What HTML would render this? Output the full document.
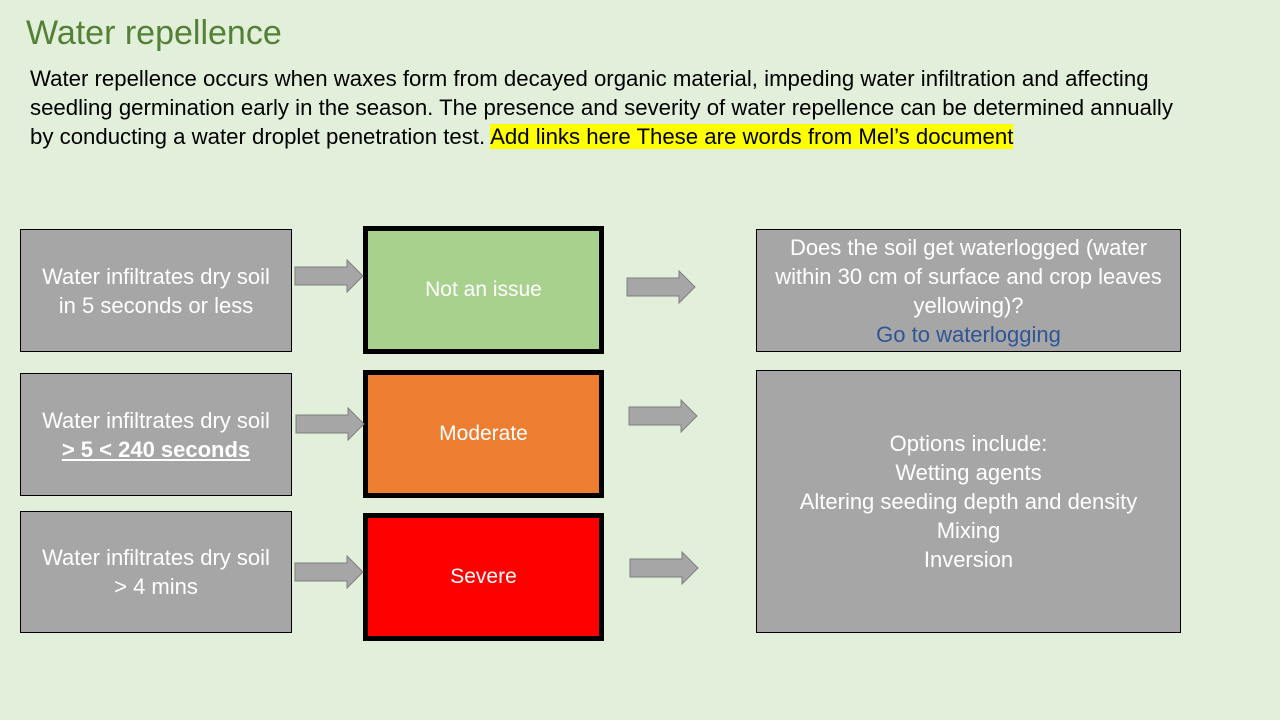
<!DOCTYPE html>
<html><head><meta charset="utf-8"><style>
body{margin:0;width:1280px;height:720px;background:#e2efda;font-family:"Liberation Sans",Calibri,sans-serif;position:relative;overflow:hidden}
.a{position:absolute}
.t{color:#538135;font-size:34px;left:26px;top:14px}
.p{left:30px;top:64px;font-size:22.2px;line-height:29px;color:#000;white-space:nowrap}
.hl{background:#ffff00}
.g{background:#a6a6a6;border:1px solid #000;box-sizing:border-box;color:#fff;font-size:22px;line-height:29px;display:flex;align-items:center;justify-content:center;text-align:center;white-space:nowrap}
.m{border:5px solid #000;box-sizing:border-box;color:#fff;font-size:21px;display:flex;align-items:center;justify-content:center}
</style></head><body>
<div class="a t">Water repellence</div>
<div class="a p">Water repellence occurs when waxes form from decayed organic material, impeding water infiltration and affecting<br>seedling germination early in the season. The presence and severity of water repellence can be determined annually<br>by conducting a water droplet penetration test. <span class="hl">Add links here These are words from Mel’s document</span></div>

<div class="a g" style="left:20px;top:229px;width:272px;height:123px">Water infiltrates dry soil<br>in 5 seconds or less</div>
<div class="a g" style="left:20px;top:373px;width:272px;height:123px"><div>Water infiltrates dry soil<br><b><u>&gt; 5 &lt; 240 seconds</u></b></div></div>
<div class="a g" style="left:20px;top:511px;width:272px;height:122px">Water infiltrates dry soil<br>&gt; 4 mins</div>

<div class="a m" style="left:363px;top:226px;width:241px;height:128px;background:#a9d18e">Not an issue</div>
<div class="a m" style="left:363px;top:370px;width:241px;height:128px;background:#ed7d31">Moderate</div>
<div class="a m" style="left:363px;top:513px;width:241px;height:128px;background:#ff0000">Severe</div>

<div class="a g" style="left:756px;top:229px;width:425px;height:123px"><div>Does the soil get waterlogged (water<br>within 30 cm of surface and crop leaves<br>yellowing)?<br><span style="color:#2f5597">Go to waterlogging</span></div></div>
<div class="a g" style="left:756px;top:370px;width:425px;height:263px"><div>Options include:<br>Wetting agents<br>Altering seeding depth and density<br>Mixing<br>Inversion</div></div>

<svg class="a" style="left:0;top:0" width="1280" height="720">
<g fill="#a6a6a6" stroke="#7f7f7f" stroke-width="1">
<path d="M0,-9 H52 V-16 L68,0 L52,16 V9 H0 Z" transform="translate(295,276)"/>
<path d="M0,-9 H52 V-16 L68,0 L52,16 V9 H0 Z" transform="translate(296,424)"/>
<path d="M0,-9 H52 V-16 L68,0 L52,16 V9 H0 Z" transform="translate(295,572)"/>
<path d="M0,-9 H52 V-16 L68,0 L52,16 V9 H0 Z" transform="translate(627,287)"/>
<path d="M0,-9 H52 V-16 L68,0 L52,16 V9 H0 Z" transform="translate(629,416)"/>
<path d="M0,-9 H52 V-16 L68,0 L52,16 V9 H0 Z" transform="translate(630,568)"/>
</g></svg>
</body></html>
